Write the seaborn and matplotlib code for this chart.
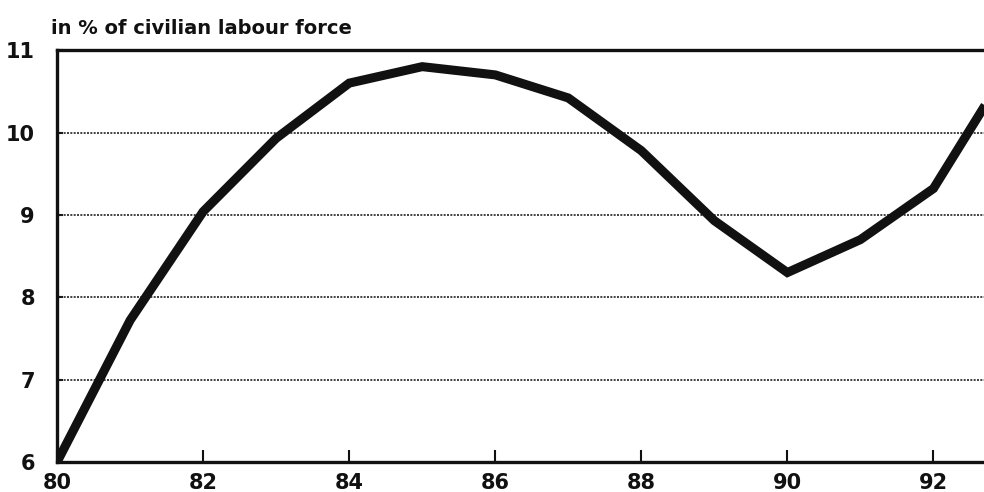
import matplotlib
matplotlib.use("Agg")
import matplotlib.pyplot as plt
import seaborn as sns
import pandas as pd

years = [80, 81, 82, 83, 84, 85, 86, 87, 88, 89, 90, 91, 92, 93]
unemployment = [6.0, 7.72, 9.04, 9.93, 10.6, 10.8, 10.7, 10.42, 9.78, 8.93, 8.3, 8.7, 9.32, 10.75]
x_ticks = [80, 82, 84, 86, 88, 90, 92]
x_labels = ["80", "82", "84", "86", "88", "90", "92"]
y_ticks = [6, 7, 8, 9, 10, 11]
y_labels = ["6", "7", "8", "9", "10", "11"]
title = "in % of civilian labour force"

sns.set_theme(style="white")
plt.rcParams["font.family"] = ["DejaVu Sans"]

df = pd.DataFrame({"year": years, "rate": unemployment})

fig = plt.figure(figsize=(9.84, 4.92), dpi=100)
ax = fig.add_axes([0.058, 0.061, 0.95, 0.837])

for v in [7, 8, 9, 10]:
    ax.axhline(v, color="#222222", lw=1.2, ls=(0, (1.2, 0.8)), zorder=1)

sns.lineplot(data=df, x="year", y="rate", ax=ax, color="#111111", lw=6.5,
             solid_joinstyle="miter", solid_capstyle="butt", zorder=3, clip_on=True)

ax.set_xlim(80, 92.8)
ax.set_ylim(6, 11)
ax.set_xticks(x_ticks)
ax.set_xticklabels(x_labels)
ax.set_yticks(y_ticks)
ax.set_yticklabels(y_labels)
ax.set_xlabel("")
ax.set_ylabel("")

for s in ["left", "bottom", "top"]:
    ax.spines[s].set_visible(True)
    ax.spines[s].set_color("#111111")
    ax.spines[s].set_linewidth(2.4)
ax.spines["right"].set_visible(False)

ax.tick_params(axis="x", direction="in", length=9, width=1.5, color="#111111",
               labelsize=15, pad=8, bottom=True)
ax.tick_params(axis="y", direction="in", length=4, width=1.5, color="#111111",
               labelsize=15, pad=16, left=True)
for lab in ax.get_xticklabels() + ax.get_yticklabels():
    lab.set_fontweight("bold")
    lab.set_color("#111111")

fig.text(0.052, 0.922, title, fontsize=14, fontweight="bold", color="#111111",
         ha="left", va="bottom")

fig.savefig("out.png", dpi=100)
